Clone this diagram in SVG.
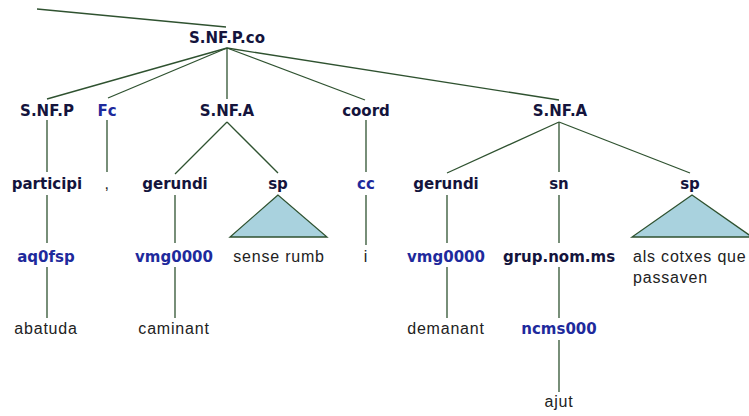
<svg xmlns="http://www.w3.org/2000/svg" width="749" height="416" viewBox="0 0 749 416">
<style>
.n{font-family:"DejaVu Sans",sans-serif;font-weight:bold;font-size:15px;fill:#14143c;text-anchor:middle}
.t{font-family:"DejaVu Sans",sans-serif;font-weight:bold;font-size:15px;fill:#1e2a9c;text-anchor:middle}
.w{font-family:"Liberation Sans",Arial,sans-serif;font-size:16px;letter-spacing:0.8px;fill:#222;text-anchor:middle}
.wl{font-family:"Liberation Sans",Arial,sans-serif;font-size:16px;letter-spacing:0.8px;fill:#222}
.e{stroke:#2f5230;stroke-width:1.3;fill:none}
.tri{fill:#a9d2de;stroke:#2f5230;stroke-width:1.3}
</style>
<rect width="749" height="416" fill="#fff"/>
<g id="connectors" class="e">
<line x1="37" y1="9" x2="226" y2="27"/>
<line x1="227" y1="48" x2="47" y2="99"/>
<line x1="227" y1="48" x2="108" y2="98"/>
<line x1="227" y1="48" x2="227" y2="99"/>
<line x1="227" y1="48" x2="365" y2="100"/>
<line x1="227" y1="48" x2="559" y2="100"/>
<line x1="47" y1="120" x2="47" y2="172"/>
<line x1="107" y1="120" x2="107" y2="172"/>
<line x1="227" y1="122" x2="175" y2="174"/>
<line x1="227" y1="122" x2="278" y2="173"/>
<line x1="366" y1="120" x2="366" y2="172"/>
<line x1="559" y1="122" x2="447" y2="173"/>
<line x1="559" y1="122" x2="559" y2="172"/>
<line x1="559" y1="122" x2="690" y2="173"/>
<line x1="47" y1="195" x2="47" y2="243"/>
<line x1="175" y1="195" x2="175" y2="243"/>
<line x1="366" y1="195" x2="366" y2="245"/>
<line x1="447" y1="195" x2="447" y2="243"/>
<line x1="559" y1="195" x2="559" y2="243"/>
<line x1="47" y1="267" x2="47" y2="318"/>
<line x1="175" y1="267" x2="175" y2="318"/>
<line x1="447" y1="267" x2="447" y2="318"/>
<line x1="559" y1="267" x2="559" y2="318"/>
<line x1="559" y1="340" x2="559" y2="392"/>
</g>
<g id="n-root"><text class="n" x="227" y="43">S.NF.P.co</text></g>
<g id="n-snfp"><text class="n" x="47" y="116">S.NF.P</text></g>
<g id="n-fc"><text class="t" x="107" y="116">Fc</text></g>
<g id="n-snfa1"><text class="n" x="227" y="116">S.NF.A</text></g>
<g id="n-coord"><text class="n" x="366" y="116">coord</text></g>
<g id="n-snfa2"><text class="n" x="560" y="116">S.NF.A</text></g>
<g id="n-participi"><text class="n" x="47" y="189">participi</text></g>
<g id="n-comma"><text class="w" x="107" y="189">,</text></g>
<g id="n-gerundi1"><text class="n" x="175" y="189">gerundi</text></g>
<g id="n-sp1"><text class="n" x="278" y="189">sp</text><polygon class="tri" points="278,195 230,237 327,237"/></g>
<g id="n-cc"><text class="t" x="366" y="189">cc</text></g>
<g id="n-gerundi2"><text class="n" x="446" y="189">gerundi</text></g>
<g id="n-sn"><text class="n" x="559" y="189">sn</text></g>
<g id="n-sp2"><text class="n" x="690" y="189">sp</text><polygon class="tri" points="692,195 632,237 752,237"/></g>
<g id="n-aq0fsp"><text class="t" x="46" y="262">aq0fsp</text></g>
<g id="n-vmg1"><text class="t" x="174" y="262">vmg0000</text></g>
<g id="n-senserumb"><text class="w" x="279" y="262">sense rumb</text></g>
<g id="n-i"><text class="w" x="366" y="262">i</text></g>
<g id="n-vmg2"><text class="t" x="446" y="262">vmg0000</text></g>
<g id="n-grupnom"><text class="n" x="559" y="262">grup.nom.ms</text></g>
<g id="n-alscotxes"><text class="wl" x="633" y="262">als cotxes que</text><text class="wl" x="633" y="283">passaven</text></g>
<g id="n-abatuda"><text class="w" x="46" y="334">abatuda</text></g>
<g id="n-caminant"><text class="w" x="174" y="334">caminant</text></g>
<g id="n-demanant"><text class="w" x="446" y="334">demanant</text></g>
<g id="n-ncms"><text class="t" x="559" y="334">ncms000</text></g>
<g id="n-ajut"><text class="w" x="559" y="407">ajut</text></g>
</svg>
